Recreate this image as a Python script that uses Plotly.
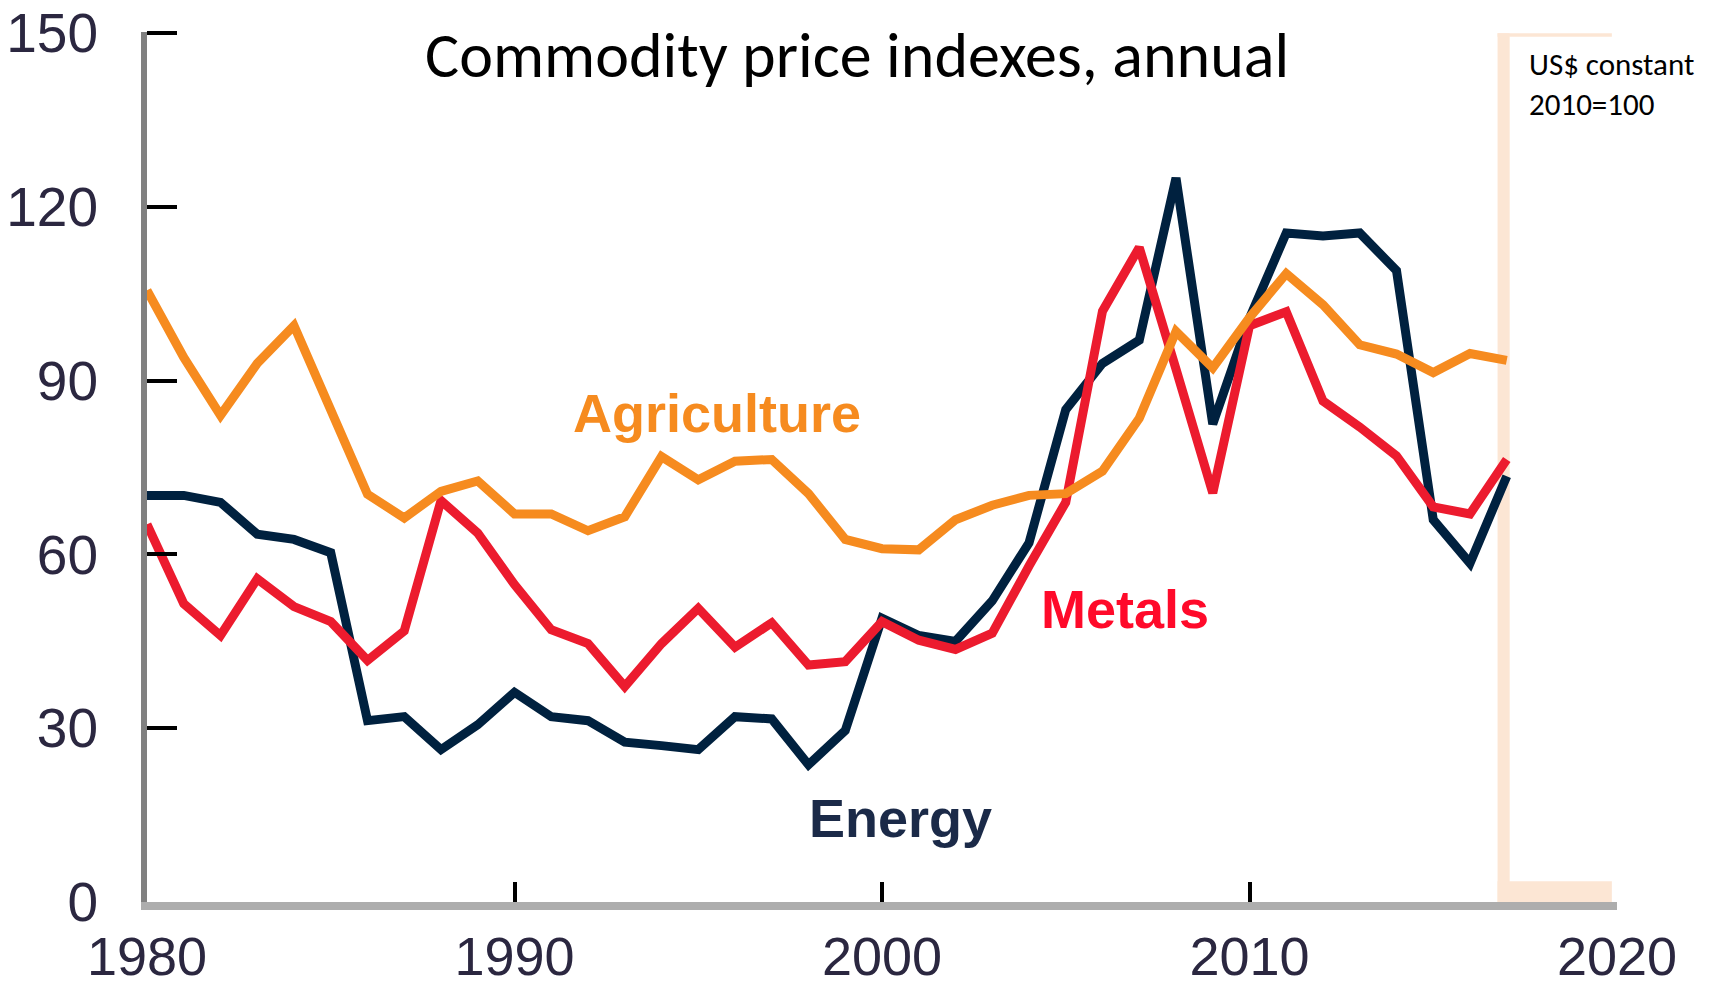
import plotly.graph_objects as go

years = list(range(1980, 2018))

energy = [70.2, 70.2, 69.0, 63.5, 62.6, 60.3, 31.3, 32.0, 26.3, 30.6,
          36.2, 32.0, 31.3, 27.6, 27.0, 26.3, 32.0, 31.6, 23.7, 29.6,
          49.0, 46.0, 45.0, 52.0, 62.0, 85.0, 93.0, 97.0, 125.0, 82.5,
          100.8, 115.5, 115.0, 115.5, 109.0, 66.0, 58.5, 73.5]

metals = [65.2, 51.5, 46.0, 55.8, 51.0, 48.4, 41.7, 46.8, 69.3, 63.7,
          54.8, 47.0, 44.6, 37.2, 44.6, 50.7, 44.0, 48.2, 40.9, 41.5,
          48.4, 45.2, 43.6, 46.4, 58.0, 69.0, 102.0, 113.0, 92.0, 70.6,
          99.5, 101.9, 86.5, 82.0, 77.0, 68.2, 67.0, 76.4]

agriculture = [105.6, 94.0, 84.0, 93.0, 99.5, 85.0, 70.4, 66.3, 70.9, 72.7,
               67.0, 67.0, 64.1, 66.5, 76.9, 72.9, 76.1, 76.4, 70.5, 62.6,
               61.0, 60.8, 66.0, 68.5, 70.2, 70.5, 74.4, 83.5, 98.5, 92.2,
               100.9, 108.5, 103.1, 96.2, 94.6, 91.4, 94.7, 93.5]

x_ticks = [1980, 1990, 2000, 2010, 2020]
y_ticks = [0, 30, 60, 90, 120, 150]

navy = "#00213f"
red = "#ec1b2e"
orange = "#f68b1f"
peach = "#fce6d4"

fig = go.Figure()
fig.add_trace(go.Scatter(x=years, y=energy, mode="lines", name="Energy",
                         line=dict(color=navy, width=9)))
fig.add_trace(go.Scatter(x=years, y=metals, mode="lines", name="Metals",
                         line=dict(color=red, width=9)))
fig.add_trace(go.Scatter(x=years, y=agriculture, mode="lines", name="Agriculture",
                         line=dict(color=orange, width=9)))

# peach frame on the right
fig.add_shape(type="rect", xref="x", yref="y", x0=2016.75, x1=2017.08, y0=0, y1=150,
              fillcolor=peach, line_width=0, layer="below")
fig.add_shape(type="rect", xref="x", yref="y", x0=2016.75, x1=2019.86, y0=149.4, y1=150,
              fillcolor=peach, line_width=0, layer="below")
fig.add_shape(type="rect", xref="x", yref="y", x0=2016.75, x1=2019.86, y0=0, y1=3.6,
              fillcolor=peach, line_width=0, layer="below")

label_font = "Liberation Sans, Arial, sans-serif"
fig.add_annotation(x=1995.5, y=84.5, text="<b>Agriculture</b>", showarrow=False,
                   font=dict(family=label_font, size=54, color=orange))
fig.add_annotation(x=2006.6, y=50.5, text="<b>Metals</b>", showarrow=False,
                   font=dict(family=label_font, size=54, color="#ff0a2a"))
fig.add_annotation(x=2000.5, y=14.5, text="<b>Energy</b>", showarrow=False,
                   font=dict(family=label_font, size=54, color="#1b2a48"))

fig.add_annotation(xref="paper", yref="paper", x=0.4827, y=0.9736,
                   text="Commodity price indexes, annual", showarrow=False,
                   yanchor="middle", xanchor="center",
                   font=dict(family="Carlito, Lato, sans-serif", size=64, color="black"))
fig.add_annotation(xref="paper", yref="paper", x=0.939, y=0.987,
                   text="US$ constant<br>2010=100", showarrow=False,
                   xanchor="left", yanchor="top", align="left",
                   font=dict(family="Carlito, Lato, sans-serif", size=31, color="black"))

tick_font = dict(family="Liberation Sans Narrow, Arial Narrow, Liberation Sans, Arial",
                 size=55, color="#2b2740")
x_tick_font = dict(tick_font, size=54)

fig.update_xaxes(range=[1980, 2020], tickvals=x_ticks, ticktext=[str(v) for v in x_ticks],
                 ticks="inside", ticklen=20, tickwidth=4, tickcolor="black",
                 showline=True, linecolor="#adadad", linewidth=8,
                 showgrid=False, zeroline=False, tickfont=x_tick_font,
                 ticklabelstandoff=0, automargin=False)
fig.update_yaxes(range=[0, 150.2], tickvals=y_ticks, ticktext=[str(v) for v in y_ticks],
                 ticks="inside", ticklen=30, tickwidth=4, tickcolor="black",
                 showline=True, linecolor="#808080", linewidth=6,
                 showgrid=False, zeroline=False, tickfont=tick_font,
                 ticklabelstandoff=32, automargin=False)

fig.update_layout(width=1721, height=989, showlegend=False,
                  plot_bgcolor="white", paper_bgcolor="white",
                  margin=dict(l=147, r=104, t=32, b=87))

fig.write_html("out.html", config={"displayModeBar": False},
               post_script="document.body.style.margin='0';")
